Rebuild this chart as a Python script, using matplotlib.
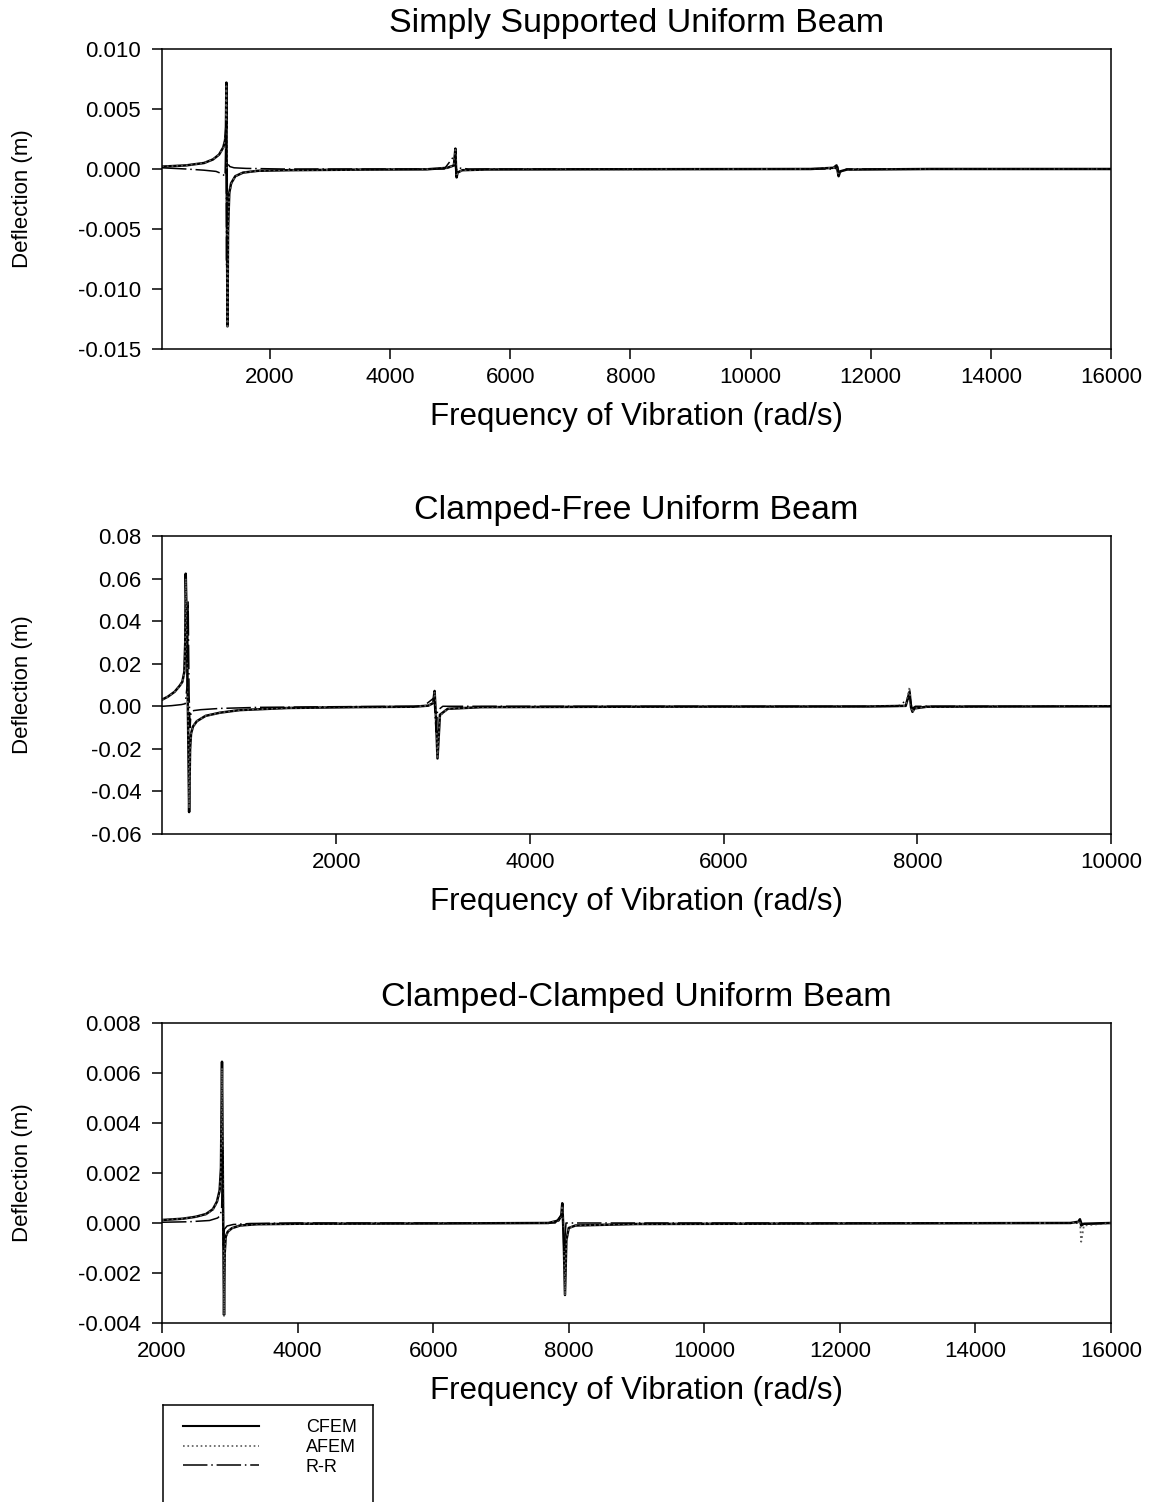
import matplotlib
matplotlib.use('Agg')
import matplotlib.pyplot as plt
from matplotlib.lines import Line2D

plt.rcParams['font.family'] = ['Liberation Sans', 'DejaVu Sans']
plt.rcParams['axes.unicode_minus'] = False

# ---- Simply supported ----
ss_freq = [200, 600, 900, 1050, 1150, 1220, 1250, 1265, 1272, 1280, 1290, 1300, 1320, 1350,
           1420, 1550, 1800, 2300, 3500, 4600, 4950, 5060, 5085, 5095, 5105, 5120, 5200, 5600,
           8000, 11000, 11380, 11430, 11450, 11465, 11490, 11600, 13000, 16000]
ss_cfem = [0.0002, 0.0003, 0.0005, 0.0008, 0.0012, 0.0018, 0.0024, 0.0035, 0.0072, -0.0030,
           -0.0131, -0.0050, -0.0020, -0.0012, -0.0006, -0.0003, -0.00015, -0.0001, -0.00005,
           -0.00003, 0.0001, 0.0003, 0.0017, 0.0002, -0.0007, -0.0003, -0.0001, -0.00004,
           -0.00002, 0.0, 0.0001, 0.0003, -0.0002, -0.0006, -0.0002, -0.00005, 0.0, 0.0]
ss_afem = [0.0002, 0.0003, 0.0005, 0.0008, 0.0012, 0.0017, 0.0023, 0.0033, 0.0069, -0.0020,
           -0.0133, -0.0055, -0.0022, -0.0013, -0.0006, -0.0003, -0.00015, -0.0001, -0.00005,
           -0.00003, 0.0001, 0.0003, 0.0016, 0.0001, -0.0006, -0.0003, -0.0001, -0.00004,
           -0.00002, 0.0, 0.0001, 0.0002, -0.0001, -0.0005, -0.0002, -0.00005, 0.0, 0.0]
ss_rr_freq = [200, 600, 900, 1100, 1200, 1250, 1268, 1275, 1285, 1300, 1330, 1400, 1600, 2200,
              4900, 5080, 5095, 5110, 5300, 11400, 11450, 11470, 11600, 16000]
ss_rr = [0.0001, 0.0, -0.0001, -0.0002, -0.0004, -0.0006, 0.0040, -0.0080, 0.0006, 0.0004,
         0.0002, 0.0001, 0.00005, 0.0, 0.0, 0.0012, -0.0004, 0.0001, 0.0, 0.0, 0.0002,
         -0.0003, 0.0, 0.0]

# ---- Clamped-free ----
cf_freq = [200, 260, 330, 380, 410, 430, 440, 445, 455, 470, 480, 490, 500, 520, 560, 650, 800,
           1000, 1500, 2200, 2800, 2950, 3000, 3015, 3030, 3045, 3070, 3150, 3500, 5000, 7500,
           7880, 7920, 7935, 7950, 7970, 8100, 10000]
cf_cfem = [0.0031, 0.0045, 0.0068, 0.0095, 0.0115, 0.016, 0.030, 0.0623, 0.040, -0.010, -0.0497,
           -0.020, -0.0128, -0.0095, -0.0070, -0.0045, -0.0030, -0.0018, -0.0008, -0.0004,
           -0.0002, 0.0003, 0.0015, 0.0072, -0.0060, -0.0245, -0.0040, -0.0012, -0.0004,
           -0.0002, -0.0001, 0.0002, 0.0068, -0.0005, -0.0026, -0.0010, -0.0002, 0.0]
cf_afem = [0.0031, 0.0045, 0.0067, 0.0093, 0.0112, 0.015, 0.028, 0.0600, 0.042, -0.005, -0.0480,
           -0.022, -0.0130, -0.0095, -0.0070, -0.0045, -0.0030, -0.0018, -0.0008, -0.0004,
           -0.0002, 0.0003, 0.0014, 0.0068, -0.0040, -0.0238, -0.0045, -0.0012, -0.0004,
           -0.0002, -0.0001, 0.0002, 0.0090, -0.0003, -0.0028, -0.0010, -0.0002, 0.0]
cf_rr_freq = [200, 300, 400, 440, 460, 470, 480, 490, 500, 530, 600, 800, 1200, 2000, 2900,
              3010, 3030, 3045, 3100, 7800, 7925, 7945, 7980, 10000]
cf_rr = [0.0, 0.0003, 0.0008, 0.0012, 0.010, 0.049, 0.005, -0.010, -0.0025, -0.0020, -0.0016,
         -0.0010, -0.0005, -0.0002, 0.0, 0.004, -0.012, -0.002, 0.0, 0.0, 0.004, -0.001, 0.0, 0.0]

# ---- Clamped-clamped ----
cc_freq = [2000, 2300, 2500, 2650, 2750, 2810, 2850, 2870, 2885, 2900, 2915, 2925, 2940, 2970,
           3030, 3150, 3400, 4000, 6000, 7700, 7850, 7890, 7905, 7925, 7945, 7965, 8000, 8100,
           9000, 12000, 15400, 15520, 15542, 15560, 15600, 16000]
cc_cfem = [0.00012, 0.00017, 0.00025, 0.00036, 0.00055, 0.00085, 0.0013, 0.0022, 0.00645, 0.001,
           -0.00368, -0.0012, -0.00055, -0.00035, -0.00021, -0.0001, -0.00005, -0.00003,
           -0.00002, 0.0, 0.0001, 0.0003, 0.00079, -0.0005, -0.00288, -0.0007, -0.0002, -0.0001,
           -0.00004, -0.00002, 0.0, 0.00005, 0.00015, -0.0001, -0.00003, 0.0]
cc_afem = [0.00012, 0.00017, 0.00025, 0.00035, 0.00053, 0.00082, 0.0012, 0.0020, 0.0062, 0.002,
           -0.00375, -0.0013, -0.0006, -0.00035, -0.00021, -0.0001, -0.00005, -0.00003,
           -0.00002, 0.0, 0.0001, 0.0003, 0.0007, -0.0003, -0.0029, -0.0008, -0.0002, -0.0001,
           -0.00004, -0.00002, 0.0, 0.00003, 0.0001, -0.00075, -0.0001, 0.0]
cc_rr_freq = [2000, 2400, 2700, 2820, 2860, 2880, 2895, 2905, 2920, 2960, 3050, 3300, 4000,
              7800, 7910, 7930, 7960, 8100, 15500, 15550, 15580, 16000]
cc_rr = [0.00003, 0.00005, 0.0001, 0.0002, 0.0003, 0.0006, 0.0030, -0.0010, -0.00025, -0.00012,
         -0.00006, -0.00002, 0.0, 0.0, 0.0004, -0.0012, 0.0, 0.0, 0.0, 0.0001, -0.00005, 0.0]

titles = ['Simply Supported Uniform Beam', 'Clamped-Free Uniform Beam',
          'Clamped-Clamped Uniform Beam']
xlims = [(200, 16000), (200, 10000), (2000, 16000)]
xticks = [[2000, 4000, 6000, 8000, 10000, 12000, 14000, 16000],
          [2000, 4000, 6000, 8000, 10000],
          [2000, 4000, 6000, 8000, 10000, 12000, 14000, 16000]]
ylims = [(-0.015, 0.010), (-0.06, 0.08), (-0.004, 0.008)]
yticks = [[-0.015, -0.010, -0.005, 0.000, 0.005, 0.010],
          [-0.06, -0.04, -0.02, 0.00, 0.02, 0.04, 0.06, 0.08],
          [-0.004, -0.002, 0.000, 0.002, 0.004, 0.006, 0.008]]
yfmt = ['%.3f', '%.2f', '%.3f']
data = [(ss_freq, ss_cfem, ss_afem, ss_rr_freq, ss_rr),
        (cf_freq, cf_cfem, cf_afem, cf_rr_freq, cf_rr),
        (cc_freq, cc_cfem, cc_afem, cc_rr_freq, cc_rr)]

W, H = 1161, 1502
fig = plt.figure(figsize=(W / 100, H / 100), dpi=100)
boxes = [(49, 349), (536, 834), (1023, 1323)]
left, right = 162, 1111

rr_dash = (0, (16, 2.5, 1, 2.5))
for i in range(3):
    top, bot = boxes[i]
    ax = fig.add_axes([left / W, 1 - bot / H, (right - left) / W, (bot - top) / H])
    f, c, a, rf, r = data[i]
    ax.plot(f, c, color='black', lw=1.8, label='CFEM')
    ax.plot(f, a, color='0.35', lw=1.3, linestyle=':', label='AFEM')
    ax.plot(rf, r, color='black', lw=1.1, linestyle=rr_dash, label='R-R')
    ax.set_xlim(*xlims[i])
    ax.set_ylim(*ylims[i])
    ax.set_xticks(xticks[i])
    ax.set_yticks(yticks[i])
    ax.set_yticklabels([yfmt[i] % v for v in yticks[i]])
    ax.tick_params(direction='out', length=7, width=1.1, labelsize=16, pad=8,
                   top=False, right=False)
    ax.tick_params(axis='x', pad=6)
    for s in ax.spines.values():
        s.set_linewidth(1.1)
    ax.set_title(titles[i], fontsize=24.5, pad=12)
    ax.set_xlabel('Frequency of Vibration (rad/s)', fontsize=22.5, labelpad=10)
    ax.set_ylabel('Deflection (m)', fontsize=16)
    ax.yaxis.set_label_coords((33 - left) / (right - left), 0.5)

# legend box, cut off at the bottom of the figure
lax = fig.add_axes([163 / W, 1 - 1540 / H, 210 / W, 135 / H])
lax.set_xticks([])
lax.set_yticks([])
for s in lax.spines.values():
    s.set_linewidth(1.1)
leg_handles = [Line2D([], [], color='black', lw=1.5),
               Line2D([], [], color='0.35', lw=1.2, linestyle=':'),
               Line2D([], [], color='black', lw=1.1, linestyle=rr_dash)]
fig.legend(leg_handles, ['CFEM', 'AFEM', 'R-R'], loc='upper left',
           bbox_to_anchor=(183 / W, 1 - 1419 / H), frameon=False, fontsize=13,
           borderpad=0, borderaxespad=0, handlelength=4.2, handletextpad=2.6,
           labelspacing=0.16)

fig.savefig('out.png', dpi=100)
